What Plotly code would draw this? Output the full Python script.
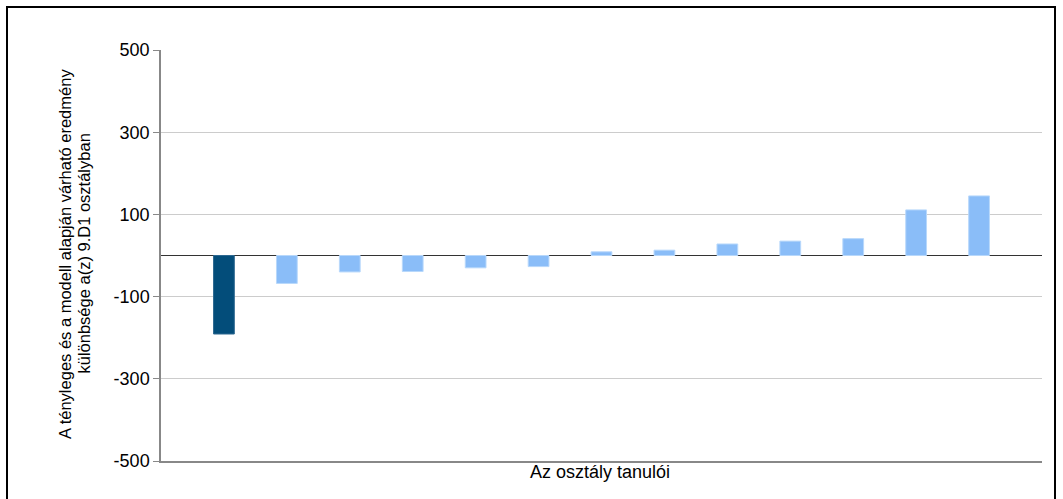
import plotly.graph_objects as go

students = list(range(1, 14))
diffs = [-191, -68, -40, -39, -30, -27, 9, 13, 28, 35, 41, 111, 145]
bar_colors = ["#034d7a"] + ["#8abdf8"] * 12
line_colors = ["#2d6890"] + ["#b8d8fb"] * 12
y_ticks = [-500, -300, -100, 100, 300, 500]
y_title_line1 = "A tényleges és a modell alapján várható eredmény"
y_title_line2 = "különbsége a(z) 9.D1 osztályban"
x_title = "Az osztály tanulói"

W, H = 1063, 499
L, R, T, B = 161, 21, 50, 38
pw, ph = W - L - R, H - T - B

def px(xp):
    return (xp - L) / pw

def py(yp):
    return (H - B - yp) / ph

fig = go.Figure()
fig.add_trace(go.Bar(
    x=students, y=diffs, width=0.33,
    marker=dict(color=bar_colors, line=dict(color=line_colors, width=1)),
    hoverinfo="y",
))

fig.update_layout(
    width=W, height=H,
    margin=dict(l=L, r=R, t=T, b=B),
    paper_bgcolor="white", plot_bgcolor="white",
    showlegend=False,
    font=dict(family="Liberation Sans, Arial, sans-serif", color="#000"),
    xaxis=dict(range=[0, 14], showticklabels=False, showgrid=False, zeroline=False,
               showline=True, linecolor="#888888", linewidth=1.5, ticks=""),
    yaxis=dict(range=[-500, 500], tickvals=y_ticks, ticktext=[str(v) for v in y_ticks],
               showgrid=True, gridcolor="#cccccc", gridwidth=1,
               zeroline=True, zerolinecolor="#333333", zerolinewidth=1.2,
               showline=True, linecolor="#888888", linewidth=1.5,
               ticks="outside", ticklen=6, tickcolor="#888888",
               tickfont=dict(size=18, color="#000")),
    annotations=[
        dict(text=y_title_line1, textangle=-90, xref="paper", yref="paper",
             x=px(65), y=py(254), xanchor="center", yanchor="middle",
             showarrow=False, font=dict(size=16.5, color="#000")),
        dict(text=y_title_line2, textangle=-90, xref="paper", yref="paper",
             x=px(83.5), y=py(254), xanchor="center", yanchor="middle",
             showarrow=False, font=dict(size=16.5, color="#000")),
        dict(text=x_title, xref="paper", yref="paper",
             x=px(600), y=py(472), xanchor="center", yanchor="middle",
             showarrow=False, font=dict(size=18, color="#000")),
    ],
    shapes=[
        dict(type="rect", xref="paper", yref="paper",
             x0=px(7), x1=px(1055), y0=py(510), y1=py(7),
             line=dict(color="#000", width=2), fillcolor="rgba(0,0,0,0)", layer="above"),
    ],
)

fig.write_html("out.html", config={"displayModeBar": False},
               post_script="document.body.style.margin='0';")
